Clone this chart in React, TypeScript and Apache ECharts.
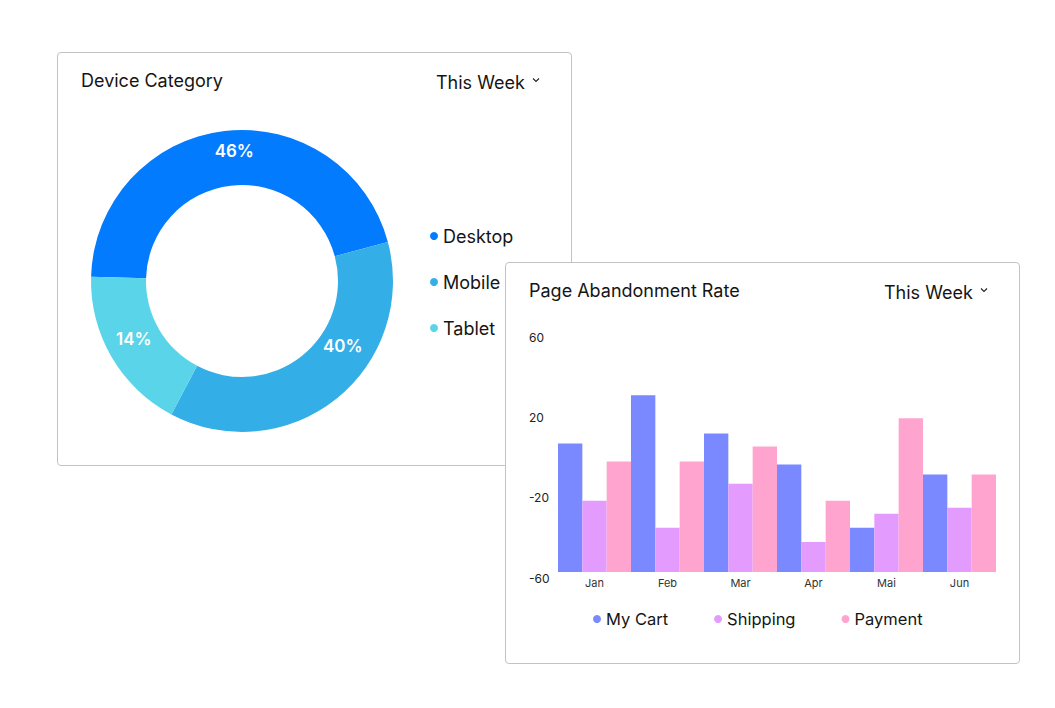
import React, { useEffect, useRef } from "react";
import * as echarts from "echarts";

// ---- Device Category (donut) ----
const deviceCategories = ["Desktop", "Mobile", "Tablet"];
const deviceShares = [45.4, 36.9, 17.7];
const deviceLabels = ["46%", "40%", "14%"];
const deviceColors = ["#037bfe", "#34aee6", "#59d4e8"];

// ---- Page Abandonment Rate (bars) ----
const months = ["Jan", "Feb", "Mar", "Apr", "Mai", "Jun"];
const seriesNames = ["My Cart", "Shipping", "Payment"];
const myCart = [4, 28, 9, -6.5, -38, -11.5];
const shipping = [-24.5, -38, -16, -45, -31, -28];
const payment = [-5, -5, 2.5, -24.5, 16.5, -11.5];
const barColors = ["#7a89ff", "#e49bfe", "#ffa4cf"];
const yTickLabels = ["-60", "-20", "20", "60"];
const Y_MIN = -60;
const Y_MAX = 60;
const Y_STEP = 40;

const FONT = "Inter";

// small nudges of the donut's value labels, as placed in the reference
const pieLabelNudge = [
  { dx: 7, dy: -4 },
  { dx: 22, dy: -34 },
  { dx: 1, dy: -6 },
];

function header(title: string): any[] {
  return [
    {
      type: "text",
      x: 23,
      y: 27,
      style: { text: title, fontFamily: FONT, fontSize: 18, fontWeight: 400, fill: "#151515", verticalAlign: "middle", align: "left" },
    },
    {
      type: "text",
      x: 378,
      y: 29.5,
      style: { text: "This Week", fontFamily: FONT, fontSize: 18, fontWeight: 400, fill: "#151515", verticalAlign: "middle", align: "left" },
    },
    {
      type: "polyline",
      shape: { points: [[475, 25.5], [478, 28.5], [481, 25.5]] },
      style: { stroke: "#222", lineWidth: 1.1, fill: null },
    },
  ];
}

function Chart({ option, width, height }: { option: any; width: number; height: number }) {
  const ref = useRef<HTMLDivElement>(null);
  useEffect(() => {
    const chart = echarts.init(ref.current!, undefined, { renderer: "svg" });
    chart.setOption(option);
    return () => chart.dispose();
  }, []);
  return <div ref={ref} style={{ width, height }} />;
}

const pieOption = {
  animation: false,
  graphic: header("Device Category"),
  legend: {
    orient: "vertical",
    left: 367,
    top: 168,
    icon: "circle",
    itemWidth: 8,
    itemHeight: 8,
    itemGap: 26,
    selectedMode: false,
    textStyle: { fontFamily: FONT, fontSize: 18, color: "#151515", lineHeight: 20 },
    data: deviceCategories,
  },
  series: [
    {
      type: "pie",
      center: [184, 228],
      radius: [96, 151],
      startAngle: 178.4,
      clockwise: true,
      emphasis: { disabled: true },
      label: {
        show: true,
        position: "inside",
        formatter: (p: any) => deviceLabels[p.dataIndex],
        color: "#fff",
        fontFamily: FONT,
        fontSize: 17,
        fontWeight: 600,
      },
      labelLayout: (p: any) => pieLabelNudge[p.dataIndex],
      labelLine: { show: false },
      data: deviceCategories.map((name, i) => ({
        name,
        value: deviceShares[i],
        itemStyle: { color: deviceColors[i] },
      })),
    },
  ],
};

const barValues = [myCart, shipping, payment];

const barOption = {
  animation: false,
  graphic: header("Page Abandonment Rate"),
  grid: { left: 52, right: 23, top: 68, bottom: 91 },
  legend: {
    left: 82,
    top: 342,
    icon: "circle",
    itemWidth: 8,
    itemHeight: 8,
    itemGap: 46,
    selectedMode: false,
    textStyle: { fontFamily: FONT, fontSize: 16.5, color: "#151515", lineHeight: 18 },
    data: seriesNames,
  },
  xAxis: {
    type: "category",
    data: months,
    axisLine: { show: false },
    axisTick: { show: false },
    axisLabel: { fontFamily: FONT, fontSize: 11, color: "#333", margin: 5 },
  },
  yAxis: {
    type: "value",
    min: 0,
    max: Y_MAX - Y_MIN,
    interval: Y_STEP,
    splitLine: { show: false },
    axisLine: { show: false },
    axisTick: { show: false },
    axisLabel: {
      formatter: (v: number) => yTickLabels[Math.round(v / Y_STEP)],
      align: "left",
      verticalAlign: "top",
      margin: 29,
      fontFamily: FONT,
      fontSize: 12,
      color: "#222",
    },
  },
  series: seriesNames.map((name, i) => ({
    name,
    type: "bar",
    barGap: "0%",
    barCategoryGap: "0%",
    itemStyle: { color: barColors[i] },
    emphasis: { disabled: true },
    data: barValues[i].map((v) => v - Y_MIN),
  })),
};

const cardStyle: React.CSSProperties = {
  position: "absolute",
  border: "1px solid #c3c3c3",
  borderRadius: 4,
  background: "#fff",
  boxSizing: "border-box",
  overflow: "hidden",
};

export default function App() {
  return (
    <div style={{ position: "absolute", left: 0, top: 0, width: 1055, height: 708, background: "#fff" }}>
      <div style={{ ...cardStyle, left: 57, top: 52, width: 515, height: 414, zIndex: 1 }}>
        <Chart option={pieOption} width={513} height={412} />
      </div>
      <div style={{ ...cardStyle, left: 505, top: 262, width: 515, height: 402, zIndex: 2 }}>
        <Chart option={barOption} width={513} height={400} />
      </div>
    </div>
  );
}
